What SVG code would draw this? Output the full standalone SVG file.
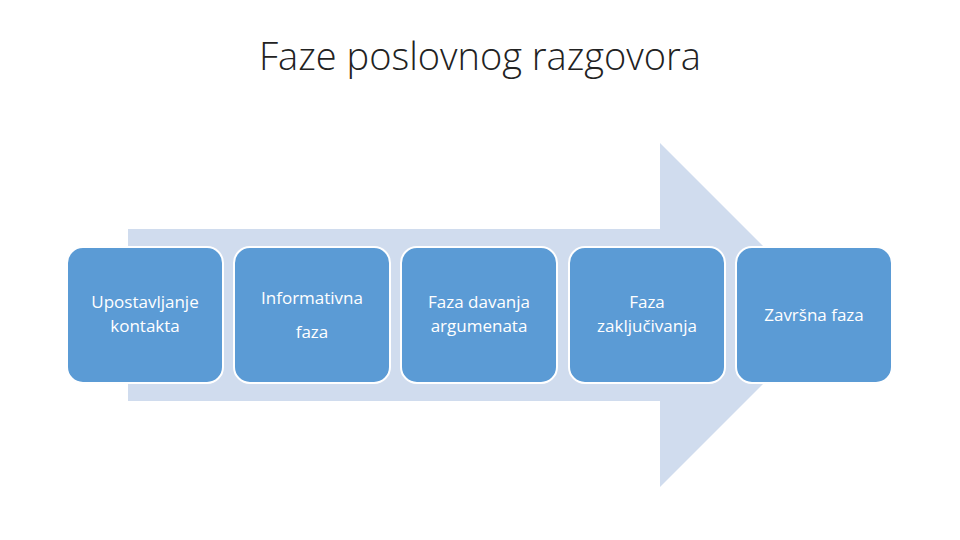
<svg xmlns="http://www.w3.org/2000/svg" width="960" height="540" viewBox="0 0 960 540">
<style>
.box{fill:#5b9bd5;stroke:#fff;stroke-width:2}
.t{fill:#fff;font-family:"Open Sans","Liberation Sans",sans-serif;font-size:17px;text-anchor:middle}
</style>
<rect width="960" height="540" fill="#fff"/>
<text x="480" y="70" font-family="Open Sans, Liberation Sans, sans-serif" font-size="38" font-weight="300" fill="#222" text-anchor="middle">Faze poslovnog razgovora</text>
<g id="connectors">
<polygon points="128,229 660,229 660,143 832,315 660,487 660,401 128,401" fill="#d0dcee"/>
</g>
<g id="n1"><rect class="box" x="67" y="247" width="156" height="136" rx="16"/><text class="t" x="145" y="308">Upostavljanje</text><text class="t" x="145" y="332">kontakta</text></g>
<g id="n2"><rect class="box" x="234" y="247" width="156" height="136" rx="16"/><text class="t" x="312" y="304">Informativna</text><text class="t" x="312" y="338">faza</text></g>
<g id="n3"><rect class="box" x="401" y="247" width="156" height="136" rx="16"/><text class="t" x="479" y="308">Faza davanja</text><text class="t" x="479" y="332">argumenata</text></g>
<g id="n4"><rect class="box" x="569" y="247" width="156" height="136" rx="16"/><text class="t" x="647" y="308">Faza</text><text class="t" x="647" y="332">zaključivanja</text></g>
<g id="n5"><rect class="box" x="736" y="247" width="156" height="136" rx="16"/><text class="t" x="814" y="321">Završna faza</text></g>
</svg>
